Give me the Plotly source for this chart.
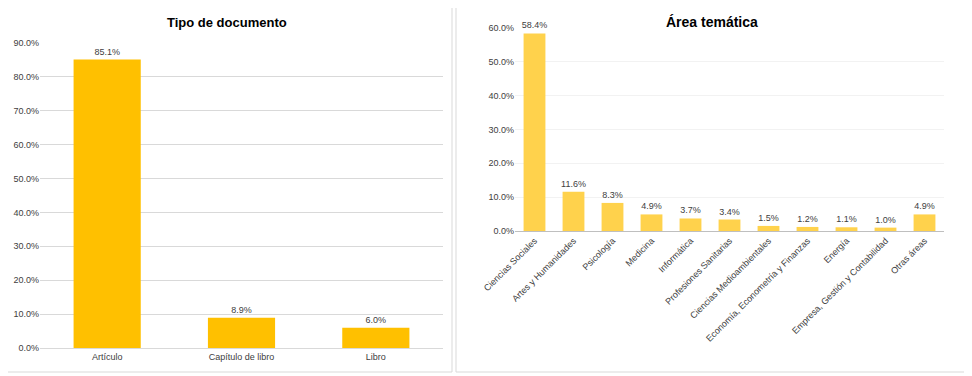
import plotly.graph_objects as go

doc_types = ["Artículo", "Capítulo de libro", "Libro"]
doc_values = [85.1, 8.9, 6.0]

areas = ["Ciencias Sociales", "Artes y Humanidades", "Psicología", "Medicina",
         "Informática", "Profesiones Sanitarias", "Ciencias Medioambientales",
         "Economía, Econometría y Finanzas", "Energía",
         "Empresa, Gestión y Contabilidad", "Otras áreas"]
area_values = [58.4, 11.6, 8.3, 4.9, 3.7, 3.4, 1.5, 1.2, 1.1, 1.0, 4.9]

left_ticks = [0, 10, 20, 30, 40, 50, 60, 70, 80, 90]
right_ticks = [0, 10, 20, 30, 40, 50, 60]

# page body has an 8px margin; figure occupies the rest of the 972x376 window
OFF = 8
W, H = 972 - OFF, 376 - OFF
FONT = "Liberation Sans, Arial, sans-serif"

def px(x):
    return (x - OFF) / W

def py(y):
    return 1 - (y - OFF) / H

fig = go.Figure()

fig.add_trace(go.Bar(
    x=doc_types, y=doc_values, xaxis="x", yaxis="y",
    marker=dict(color="#FFC000", line=dict(width=0)),
    width=0.5,
    text=[f"{v:.1f}%" for v in doc_values], textposition="outside",
    textfont=dict(size=9, color="#404040", family=FONT),
    cliponaxis=False, showlegend=False,
))

fig.add_trace(go.Bar(
    x=areas, y=area_values, xaxis="x2", yaxis="y2",
    marker=dict(color="#FFD24C", line=dict(width=0)),
    width=0.56,
    text=[f"{v:.1f}%" for v in area_values], textposition="outside",
    textfont=dict(size=9, color="#404040", family=FONT),
    cliponaxis=False, showlegend=False,
))

fig.update_layout(
    width=W, height=H,
    margin=dict(l=0, r=0, t=0, b=0, autoexpand=False),
    paper_bgcolor="#FFFFFF",
    plot_bgcolor="rgba(0,0,0,0)",
    font=dict(family=FONT, size=9, color="#404040"),
    uniformtext=dict(minsize=9, mode="show"),
    xaxis=dict(domain=[px(40), px(443)], anchor="y", automargin=False,
               showline=True, linecolor="#D9D9D9", linewidth=1,
               ticks="", tickfont=dict(size=9, color="#404040")),
    yaxis=dict(domain=[py(348), py(43)], anchor="x", range=[0, 90], automargin=False,
               tickvals=left_ticks, ticktext=[f"{v:.1f}%" for v in left_ticks],
               showgrid=True, gridcolor="#D9D9D9", gridwidth=1, zeroline=False,
               showline=False, ticks="", tickfont=dict(size=9, color="#404040")),
    xaxis2=dict(domain=[px(515), px(944)], anchor="y2", automargin=False,
                showline=True, linecolor="#BFBFBF", linewidth=1,
                tickangle=-45, ticks="", tickfont=dict(size=9, color="#404040")),
    yaxis2=dict(domain=[py(231), py(28)], anchor="x2", range=[0, 60], automargin=False,
                tickvals=right_ticks, ticktext=[f"{v:.1f}%" for v in right_ticks],
                showgrid=True, gridcolor="#F2F2F2", gridwidth=1, zeroline=False,
                showline=False, ticks="", tickfont=dict(size=9, color="#404040")),
    shapes=[
        dict(type="rect", xref="paper", yref="paper", layer="below",
             x0=px(3), x1=px(452), y0=py(372), y1=py(3),
             fillcolor="white", line=dict(color="#D9D9D9", width=1)),
        dict(type="rect", xref="paper", yref="paper", layer="below",
             x0=px(456), x1=px(968), y0=py(372), y1=py(3),
             fillcolor="white", line=dict(color="#D9D9D9", width=1)),
    ],
    annotations=[
        dict(text="<b>Tipo de documento</b>", xref="paper", yref="paper",
             x=px(227), y=py(22), xanchor="center", yanchor="middle",
             showarrow=False, font=dict(size=13, color="#000000", family=FONT)),
        dict(text="<b>Área temática</b>", xref="paper", yref="paper",
             x=px(712), y=py(22), xanchor="center", yanchor="middle",
             showarrow=False, font=dict(size=14, color="#000000", family=FONT)),
    ],
)

fig.write_html("out.html")
